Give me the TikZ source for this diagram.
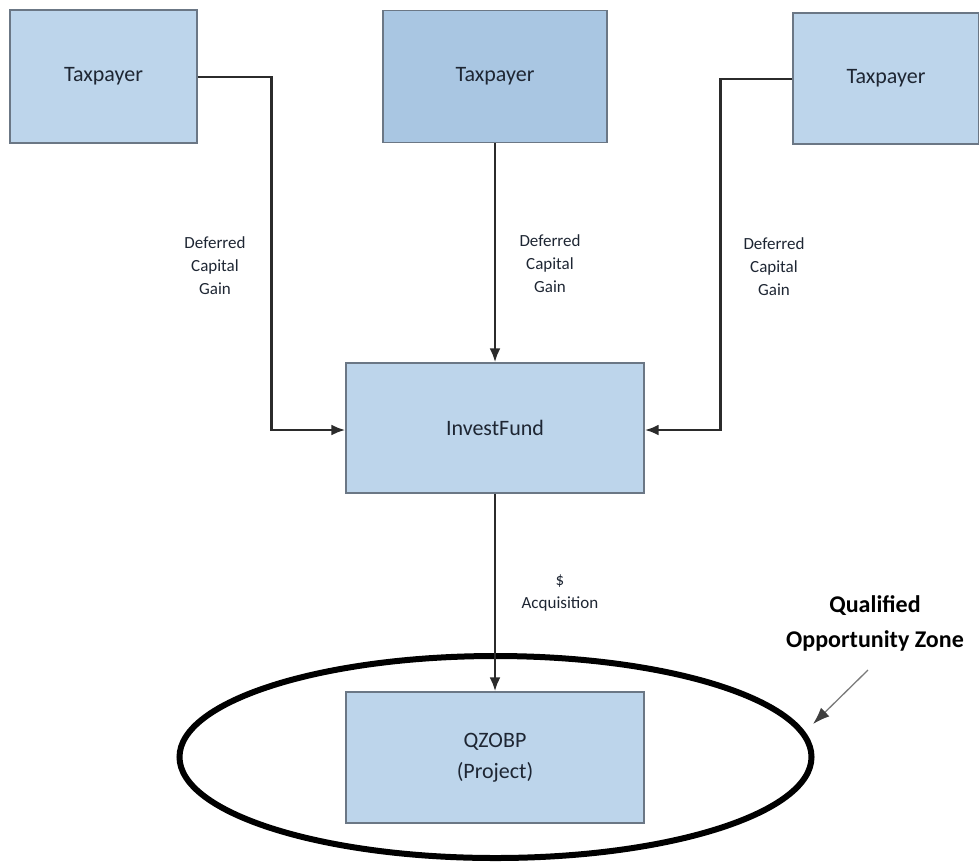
\documentclass[tikz,border=0pt]{standalone}
\usepackage{fontspec}
\setmainfont{Carlito}
\usetikzlibrary{arrows.meta,shapes.geometric}
\definecolor{boxfill}{HTML}{BDD5EB}
\definecolor{boxfilldark}{HTML}{A9C6E2}
\definecolor{boxedge}{HTML}{6B7785}
\definecolor{txt}{HTML}{1E2633}
\definecolor{conn}{HTML}{2B2B2B}
\definecolor{pointer}{HTML}{7A7A7A}
\definecolor{pointerhead}{HTML}{3F3F3F}
\begin{document}
\begin{tikzpicture}[x=1pt,y=-1pt,
  entity/.style={draw=boxedge,line width=1.4pt,fill=boxfill,text=txt,
    font=\fontsize{22}{26}\selectfont,inner sep=0pt,align=center},
  lbl/.style={text=txt,font=\fontsize{17}{23}\selectfont,align=center,inner sep=0pt},
  flow/.style={draw=conn,line width=2.5pt,-{Latex[length=14pt,width=11pt]}}]
\useasboundingbox (0,0) rectangle (979,863);
\clip (0,0) rectangle (979,863);
% boxes
\node[entity,minimum width=187pt,minimum height=133pt] (t1) at (103.5,76.5) {Taxpayer};
\node[entity,fill=boxfilldark,minimum width=224pt,minimum height=132pt] (t2) at (495,76.5) {Taxpayer};
\node[entity,minimum width=186pt,minimum height=131pt] (t3) at (886,78.5) {Taxpayer};
\node[entity,minimum width=298pt,minimum height=130pt] (fund) at (495,428) {InvestFund};
\node[entity,minimum width=298pt,minimum height=131pt,font=\fontsize{22}{31}\selectfont] (proj) at (495,757.5) {QZOBP\\(Project)};
% zone ellipse
\node[ellipse,draw=black,line width=6pt,minimum width=632pt,minimum height=202pt,inner sep=0pt] (zone) at (495.5,757) {};
% connectors
\coordinate (c1) at (271.5,77);
\coordinate (c2) at (271.5,430);
\coordinate (c3) at (720.5,79);
\coordinate (c4) at (720.5,430);
\draw[flow] (t1.east |- c1) -- (c1) -- (c2) -- (c2 -| fund.west);
\draw[flow] (t2.south) -- (fund.north);
\draw[flow,line width=2.8pt] (t3.west |- c3) -- (c3) -- (c4) -- (c4 -| fund.east);
\draw[flow] (fund.south) -- (proj.north);
% labels
\node[lbl] (l1) at (215,265.5) {Deferred\\Capital\\Gain};
\node[lbl] (l2) at (550,264) {Deferred\\Capital\\Gain};
\node[lbl] (l3) at (774,266.5) {Deferred\\Capital\\Gain};
\node[lbl] (l4) at (560,593) {\$\\Acquisition};
\node[text=black,font=\bfseries\fontsize{24}{35}\selectfont,align=center,inner sep=0pt] (qoz) at (875,623) {Qualified\\Opportunity Zone};
\coordinate (qa) at (868,670);
\coordinate (qb) at (813,724);
\draw[draw=pointer,line width=1.3pt,-{Latex[length=17pt,width=12pt,color=pointerhead]}] (qa) -- (qb);
\end{tikzpicture}
\end{document}
